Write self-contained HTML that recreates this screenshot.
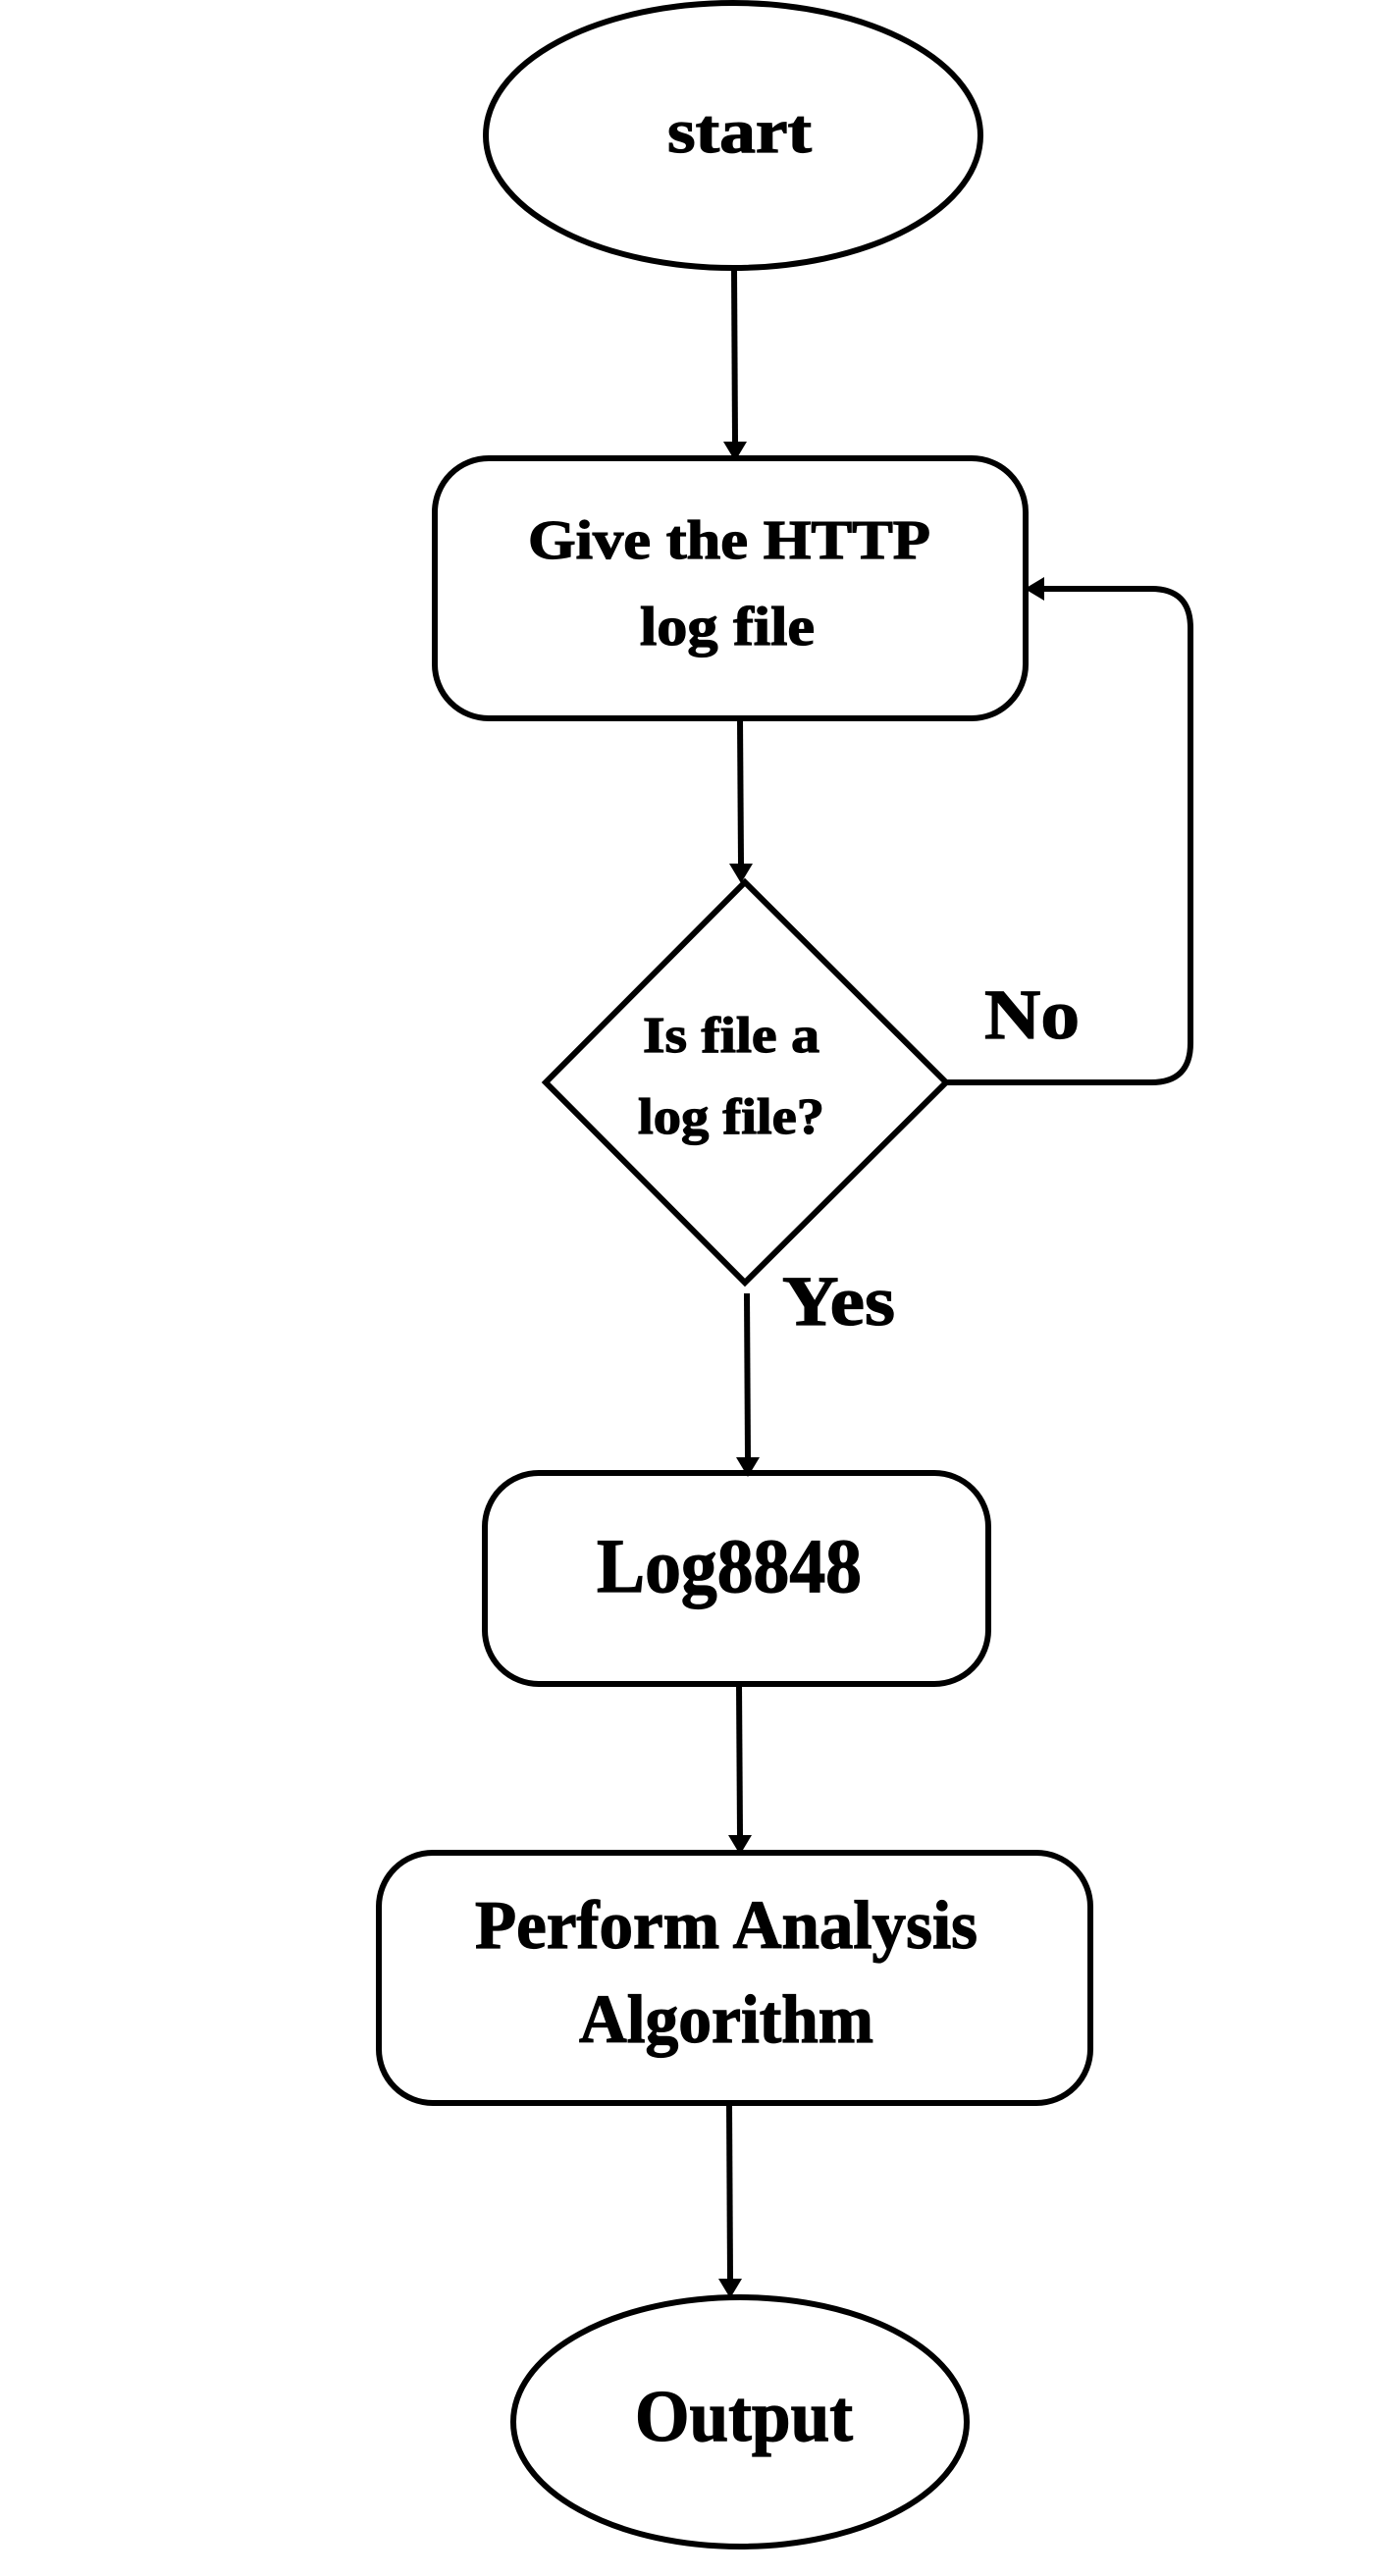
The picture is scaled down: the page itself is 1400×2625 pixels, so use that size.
<!DOCTYPE html>
<html><head><meta charset="utf-8"><style>html,body{margin:0;padding:0;background:#fff}svg{display:block}</style></head>
<body>
<svg width="1400" height="2625" viewBox="0 0 1400 2625" xmlns="http://www.w3.org/2000/svg">
<g fill="none" stroke="#000" stroke-width="6">
<ellipse cx="747" cy="138" rx="252" ry="135"/>
<rect x="443" y="467" width="602" height="265" rx="55"/>
<polygon points="759,899 964,1103 759,1307 556,1103"/>
<rect x="494" y="1501" width="513" height="215" rx="55"/>
<rect x="386" y="1888" width="725" height="255" rx="55"/>
<ellipse cx="754" cy="2468" rx="231" ry="127"/>
<line x1="748" y1="273" x2="749" y2="450"/>
<line x1="754" y1="732" x2="755" y2="880"/>
<path d="M964,1103 H1173 Q1213,1103 1213,1063 V640 Q1213,600 1173,600 H1062"/>
<line x1="761" y1="1318" x2="762" y2="1485"/>
<line x1="753" y1="1716" x2="754" y2="1870"/>
<line x1="743" y1="2143" x2="744" y2="2322"/>
</g>
<g fill="#000">
<polygon points="737,450 761,450 749,470"/>
<polygon points="743,880 767,880 755,900"/>
<polygon points="1064,588 1064,612 1044,600"/>
<polygon points="750,1485 774,1485 762,1505"/>
<polygon points="742,1870 766,1870 754,1890"/>
<polygon points="732,2322 756,2322 744,2342"/>
</g>
<g font-family="'Liberation Serif',serif" font-weight="bold" fill="#000" stroke="#000" stroke-width="1.2">
<text x="680" y="155" font-size="64" textLength="147" lengthAdjust="spacingAndGlyphs">start</text>
<text x="538" y="569" font-size="56" textLength="410" lengthAdjust="spacingAndGlyphs">Give the HTTP</text>
<text x="652" y="657" font-size="56" textLength="178" lengthAdjust="spacingAndGlyphs">log file</text>
<text x="655" y="1072" font-size="52" textLength="180" lengthAdjust="spacingAndGlyphs">Is file a</text>
<text x="650" y="1155" font-size="52" textLength="190" lengthAdjust="spacingAndGlyphs">log file?</text>
<text x="1003" y="1058" font-size="72" textLength="97" lengthAdjust="spacingAndGlyphs">No</text>
<text x="797" y="1350" font-size="72" textLength="115" lengthAdjust="spacingAndGlyphs">Yes</text>
<text x="608" y="1622" font-size="78" textLength="270" lengthAdjust="spacingAndGlyphs">Log8848</text>
<text x="484" y="1985" font-size="70" textLength="512" lengthAdjust="spacingAndGlyphs">Perform Analysis</text>
<text x="590" y="2081" font-size="70" textLength="300" lengthAdjust="spacingAndGlyphs">Algorithm</text>
<text x="647" y="2487" font-size="74" textLength="222" lengthAdjust="spacingAndGlyphs">Output</text>
</g>
</svg>
</body></html>
